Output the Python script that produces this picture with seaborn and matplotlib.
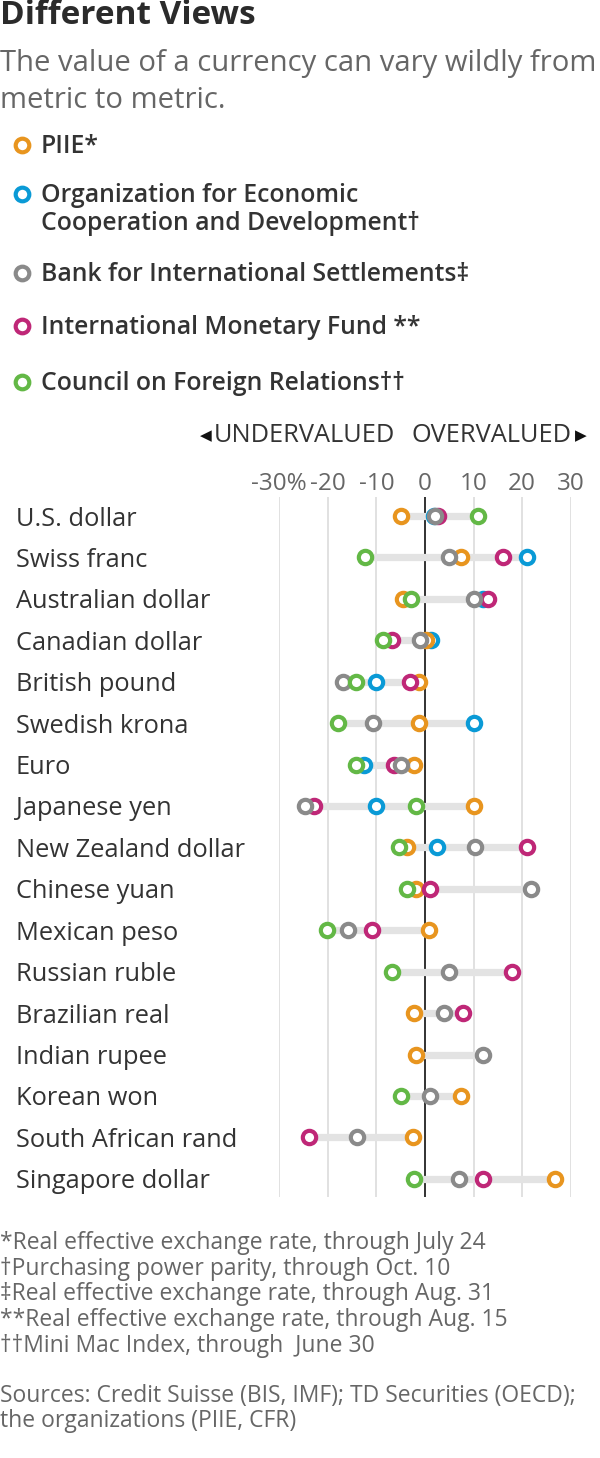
import numpy as np
import pandas as pd
import seaborn as sns
from matplotlib import pyplot as plt

currencies = ["U.S. dollar", "Swiss franc", "Australian dollar", "Canadian dollar",
              "British pound", "Swedish krona", "Euro", "Japanese yen",
              "New Zealand dollar", "Chinese yuan", "Mexican peso", "Russian ruble",
              "Brazilian real", "Indian rupee", "Korean won", "South African rand",
              "Singapore dollar"]
nan = np.nan
piie = [-5.0, 7.4, -4.6, 0.3, -1.2, -1.2, -2.3, 10.0, -3.8, -1.8, 0.8, nan, -2.3, -1.9, 7.5, -2.5, 26.7]
oecd = [1.8, 21.0, 11.9, 1.3, -10.0, 10.0, -12.5, -10.0, 2.5, nan, nan, nan, nan, nan, nan, nan, nan]
bis = [2.1, 5.0, 10.1, -1.0, -16.8, -10.8, -4.9, -24.8, 10.2, 21.9, -15.9, 5.0, 4.0, 12.0, 1.1, -13.9, 7.0]
imf = [2.6, 16.0, 13.0, -6.7, -3.1, nan, -6.3, -22.8, 20.9, 1.1, -10.9, 18.0, 7.9, nan, nan, -23.8, 12.0]
cfr = [11.0, -12.3, -2.9, -8.6, -14.2, -17.9, -14.2, -1.9, -5.4, -3.7, -20.2, -6.7, nan, nan, -4.9, nan, -2.2]

orgs = ["PIIE", "OECD", "BIS", "IMF", "CFR"]
org_labels = ["PIIE*", "Organization for Economic\nCooperation and Development\u2020",
              "Bank for International Settlements\u2021", "International Monetary Fund **",
              "Council on Foreign Relations\u2020\u2020"]
colors = {"PIIE": "#e8951f", "OECD": "#0a9ad6", "BIS": "#8a8a8a", "IMF": "#bf2777", "CFR": "#63b846"}
xticks = [-30, -20, -10, 0, 10, 20, 30]
xticklabels = ["-30%", "-20", "-10", "0", "10", "20", "30"]

df = pd.DataFrame({"currency": currencies, "PIIE": piie, "OECD": oecd, "BIS": bis, "IMF": imf, "CFR": cfr})
df["pos"] = np.arange(len(currencies))
long = df.melt(id_vars=["currency", "pos"], value_vars=orgs, var_name="org", value_name="value").dropna()

sns.set_style("white")
plt.rcParams["font.family"] = ["Open Sans", "DejaVu Sans"]

W, H = 600, 1458
fig = plt.figure(figsize=(W / 100, H / 100), dpi=100)
ax = fig.add_axes([279.3 / W, 1 - 1197 / H, (570.7 - 279.3) / W, (1197 - 497) / H])

# range bars
rng = long.groupby("pos")["value"].agg(["min", "max"])
ax.hlines(rng.index, rng["min"], rng["max"], color="#e3e3e3", lw=5.2, zorder=2)

# grid
for t in xticks:
    ax.axvline(t, color="#dcdcdc", lw=1.2, zorder=0)
ax.axvline(0, color="#333333", lw=1.4, zorder=1)

draw_order = ["OECD", "PIIE", "IMF", "BIS", "CFR"]
for i, org in enumerate(draw_order):
    sub = long[long["org"] == org]
    sns.scatterplot(data=sub, x="value", y="pos", ax=ax, color="white",
                    edgecolor=colors[org], linewidth=3.0, s=92, zorder=3 + i, legend=False)

ax.set_xlim(-30, 30)
ax.set_ylim(len(currencies) - 1 + 0.44, -0.46)
ax.set_xlabel("")
ax.set_ylabel("")
ax.xaxis.tick_top()
ax.set_xticks(xticks)
ax.set_xticklabels(xticklabels, fontsize=17.5, color="#666666")
ax.tick_params(axis="x", length=0, pad=1)
ax.set_yticks(df["pos"])
ax.set_yticklabels(currencies, fontsize=18.3, color="#333333")
ax.tick_params(axis="y", length=3, width=1, color="#333333", pad=186.6)
for lbl in ax.get_yticklabels():
    lbl.set_ha("left")
sns.despine(ax=ax, left=True, bottom=True, top=True, right=True)


def fy(y):
    return 1 - y / H


fig.text(0, fy(15), "Different Views", fontsize=24, fontweight="bold", color="#2b2b2b", va="center")
fig.text(0, fy(64), "The value of a currency can vary wildly from", fontsize=21.1,
         color="#666666", va="center")
fig.text(0, fy(101), "metric to metric.", fontsize=21.1, color="#666666", va="center")

# legend
leg_y = [145, 194, 273, 326, 382]
for org, lab, y in zip(orgs, org_labels, leg_y):
    fig.lines.append(plt.Line2D([22 / W], [fy(y)], transform=fig.transFigure, marker="o",
                                markersize=9.8, markerfacecolor="white", markeredgecolor=colors[org],
                                markeredgewidth=3.0, linestyle="none"))
    fig.text(41 / W, fy(y - 11), lab, fontsize=17.8, fontweight="semibold", color="#333333",
             va="top", linespacing=1.15)

fig.text(395 / W, fy(436), "UNDERVALUED", fontsize=18.3, color="#333333", ha="right", va="center")
fig.text(212 / W, fy(436), "\u25c0", fontsize=11, color="#111111", ha="right", va="center",
         family="DejaVu Sans")
fig.text(411 / W, fy(436), "OVERVALUED", fontsize=18.3, color="#333333", ha="left", va="center")
fig.text(575 / W, fy(436), "\u25b6", fontsize=11, color="#111111", ha="left", va="center",
         family="DejaVu Sans")

notes = ["*Real effective exchange rate, through July 24",
         "\u2020Purchasing power parity, through Oct. 10",
         "\u2021Real effective exchange rate, through Aug. 31",
         "**Real effective exchange rate, through Aug. 15",
         "\u2020\u2020Mini Mac Index, through  June 30"]
for i, n in enumerate(notes):
    fig.text(0, fy(1243 + 25.7 * i), n, fontsize=16.5, color="#666666", va="center")
fig.text(0, fy(1396), "Sources: Credit Suisse (BIS, IMF); TD Securities (OECD);", fontsize=16.5,
         color="#666666", va="center")
fig.text(0, fy(1421), "the organizations (PIIE, CFR)", fontsize=16.5, color="#666666", va="center")

fig.savefig("out.png", dpi=100, facecolor="white")
